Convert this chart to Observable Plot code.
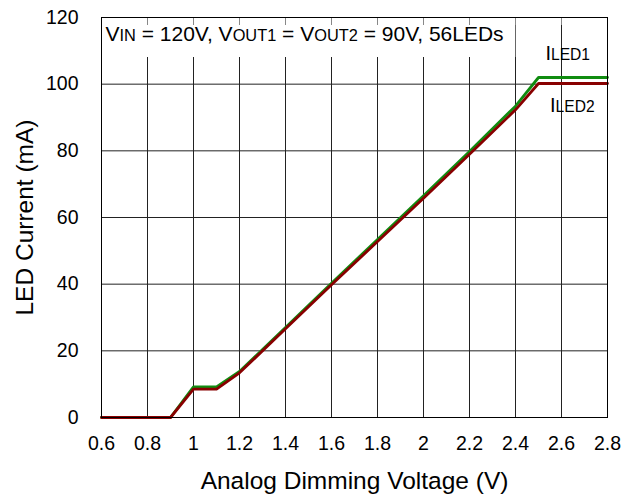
<!DOCTYPE html>
<html>
<head>
<meta charset="utf-8">
<script src="https://cdn.jsdelivr.net/npm/d3@7"></script>
<script src="https://cdn.jsdelivr.net/npm/@observablehq/plot@0.6"></script>
<style>
  html, body { margin: 0; padding: 0; background: white; }
  #chart { width: 629px; height: 496px; }
</style>
</head>
<body>
<div id="chart"></div>
<script>
// Analog dimming: LED string current vs. dimming voltage
const volts = [0.6, 0.9, 1.0, 1.1, 1.2, 1.4, 1.6, 1.8, 2.0, 2.2, 2.4, 2.5, 2.8];
const iled1 = [0, 0, 9.2, 9.2, 13.8, 27.0, 40.3, 53.4, 66.5, 79.8, 93.4, 102.0, 102.0];
const iled2 = [0, 0, 8.5, 8.5, 13.4, 26.6, 39.8, 52.8, 65.8, 79.0, 92.3, 100.2, 100.2];

const xTicks = [0.6, 0.8, 1.0, 1.2, 1.4, 1.6, 1.8, 2.0, 2.2, 2.4, 2.6, 2.8];
const yTicks = [0, 20, 40, 60, 80, 100, 120];

const conditions = "V_{IN} = 120V, V_{OUT1} = V_{OUT2} = 90V, 56LEDs";
const seriesLabels = ["I_{LED1}", "I_{LED2}"];
const xTitle = "Analog Dimming Voltage (V)";
const yTitle = "LED Current (mA)";

const green = "#108c10";
const red = "#880000";

const rows1 = volts.map((v, i) => ({v, mA: iled1[i]}));
const rows2 = volts.map((v, i) => ({v, mA: iled2[i]}));

// white panel behind the test-condition note
const noteBox = [{x1: 0.6, x2: 2.4, y1: 108, y2: 120}];
const labelPos = [{v: 2.53, mA: 107.4, text: seriesLabels[0]}, {v: 2.55, mA: 91.8, text: seriesLabels[1]}];

const chart = Plot.plot({
  width: 629,
  height: 496,
  marginLeft: 101,
  marginRight: 22,
  marginTop: 17,
  marginBottom: 79,
  style: {fontFamily: "'Liberation Sans', Arial, sans-serif", background: "white", color: "black"},
  x: {domain: [0.6, 2.8]},
  y: {domain: [0, 120]},
  marks: [
    Plot.gridX(xTicks, {stroke: "#222", strokeOpacity: 1}),
    Plot.gridY(yTicks, {stroke: "#222", strokeOpacity: 1}),
    Plot.rect(noteBox, {x1: "x1", x2: "x2", y1: "y1", y2: "y2", fill: "white"}),
    Plot.ruleX(noteBox, {x: "x2", y1: "y1", y2: "y2", stroke: "#666"}),
    Plot.ruleX(xTicks, {y1: 120, y2: 117.6, stroke: "#888"}),
    Plot.line(rows1, {x: "v", y: "mA", stroke: green, strokeWidth: 2.8}),
    Plot.line(rows2, {x: "v", y: "mA", stroke: red, strokeWidth: 2.8}),
    Plot.text([conditions], {x: 0.6, y: 113.1, dx: 4, text: d => d, textAnchor: "start", lineAnchor: "bottom", fontSize: 21}),
    Plot.text(labelPos, {x: "v", y: "mA", text: "text", textAnchor: "start", lineAnchor: "bottom", fontSize: 20}),
    Plot.frame({stroke: "black"}),
    Plot.axisX(xTicks, {tickSize: 0, tickPadding: 19, fontSize: 19.5, tickFormat: d => String(d), label: null}),
    Plot.axisY(yTicks, {tickSize: 0, tickPadding: 23, fontSize: 19.5, tickFormat: d => String(d), label: null}),
    Plot.text([xTitle], {frameAnchor: "bottom", dy: 71, text: d => d, textAnchor: "middle", lineAnchor: "bottom", fontSize: 24.5}),
    Plot.text([yTitle], {frameAnchor: "left", dx: -76, text: d => d, rotate: -90, textAnchor: "middle", lineAnchor: "middle", fontSize: 24.5})
  ]
});

// turn "_{...}" runs into smaller subscript spans
d3.select(chart).selectAll("text").each(function () {
  const s = this.textContent;
  if (!s.includes("_{")) return;
  const el = d3.select(this);
  el.text(null);
  const re = /_\{([^}]*)\}/g;
  let last = 0, m;
  while ((m = re.exec(s)) !== null) {
    if (m.index > last) el.append("tspan").text(s.slice(last, m.index));
    el.append("tspan").attr("font-size", "0.78em").text(m[1]);
    last = m.index + m[0].length;
  }
  if (last < s.length) el.append("tspan").text(s.slice(last));
});

document.getElementById("chart").appendChild(chart);
</script>
</body>
</html>
